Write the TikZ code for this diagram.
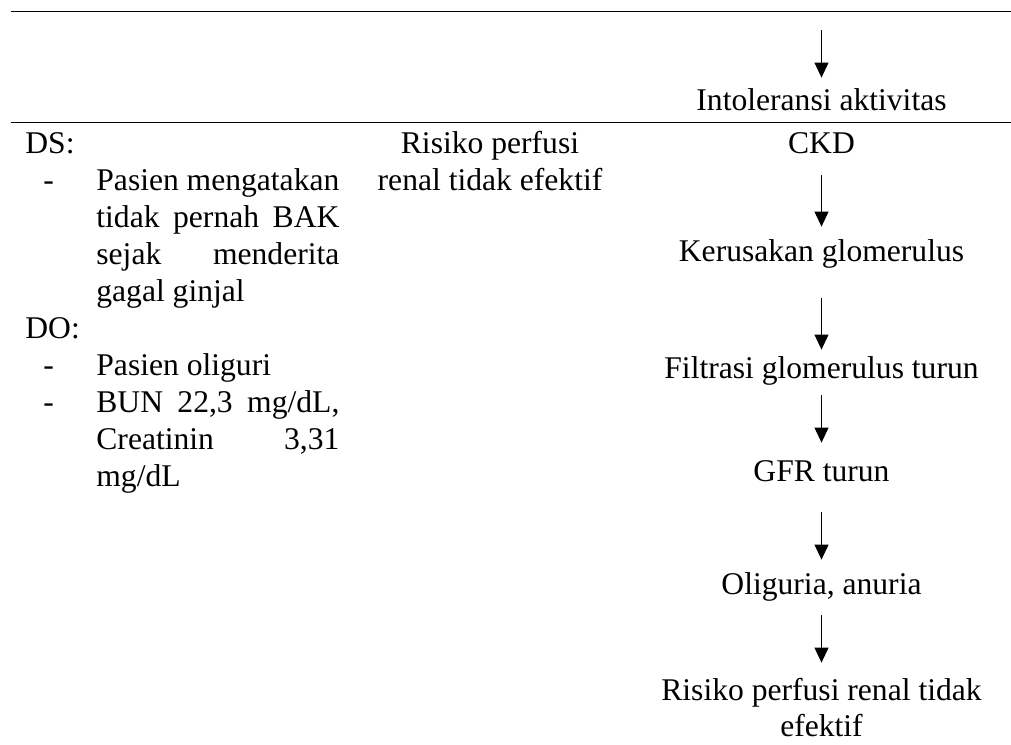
\documentclass[tikz,border=0pt]{standalone}
\usepackage{fontspec}
\setmainfont{Liberation Serif}
\usetikzlibrary{arrows.meta}

\begin{document}
\begin{tikzpicture}[x=0.5pt, y=-0.5pt,
        every node/.style={inner sep=0pt, font=\fontsize{15.8pt}{18pt}\selectfont},
        flow/.style={anchor=base, text height=11pt, text depth=3.5pt},
        arr/.style={-{Triangle[length=7.5pt, width=7pt]}, line width=0.5pt},
        rule/.style={line width=0.75pt}]
        \useasboundingbox (0,0) rectangle (1011,744);
        % garis tabel
        \draw[rule] (11,11.5) -- (1011,11.5);
        \draw[rule] (11,122.5) -- (1011,122.5);
        % data subjektif dan objektif
        \node[anchor=base west] (ds) at (25,153) {DS:};
        \node[anchor=base west] (dsmin) at (43,190) {-};
        \node[anchor=base west] (dsa) at (96,190) {\makebox[121.5pt][s]{Pasien mengatakan}};
        \node[anchor=base west] (dsb) at (96,227) {\makebox[121.5pt][s]{tidak pernah BAK}};
        \node[anchor=base west] (dsc) at (96,264) {\makebox[121.5pt][s]{sejak menderita}};
        \node[anchor=base west] (dsd) at (96,301) {gagal ginjal};
        \node[anchor=base west] (do) at (25,338) {DO:};
        \node[anchor=base west] (domina) at (43,375) {-};
        \node[anchor=base west] (doa) at (96,375) {Pasien oliguri};
        \node[anchor=base west] (dominb) at (43,412) {-};
        \node[anchor=base west] (dob) at (96,412) {\makebox[121.5pt][s]{BUN 22,3 mg/dL,}};
        \node[anchor=base west] (doc) at (96,449) {\makebox[121.5pt][s]{Creatinin 3,31}};
        \node[anchor=base west] (dod) at (96,486) {mg/dL};
        % masalah
        \node[anchor=base] (dxa) at (490,153) {Risiko perfusi};
        \node[anchor=base] (dxb) at (490,190) {renal tidak efektif};
        % etiologi
        \coordinate (atas) at (821.5,30);
        \node[flow] (intol) at (821.5,110) {Intoleransi aktivitas};
        \node[flow] (ckd) at (821.5,153) {CKD};
        \node[flow] (ker) at (821.5,261) {Kerusakan glomerulus};
        \node[flow] (fil) at (821.5,378) {Filtrasi glomerulus turun};
        \node[flow] (gfr) at (821.5,481) {GFR turun};
        \node[flow] (oli) at (821.5,594) {Oliguria, anuria};
        \node[flow] (ris) at (821.5,700) {Risiko perfusi renal tidak};
        \node[flow] (risb) at (821.5,736.5) {efektif};
        \draw[arr, shorten >=5pt] (atas) -- (intol);
        \foreach \a/\b/\s/\t in {ckd/ker/7.5pt/6pt, ker/fil/15pt/3pt, fil/gfr/5pt/8pt, gfr/oli/12pt/6pt, oli/ris/7pt/7.5pt}
            \draw[arr, shorten <=\s, shorten >=\t] (\a) -- (\b);
\end{tikzpicture}
\end{document}
